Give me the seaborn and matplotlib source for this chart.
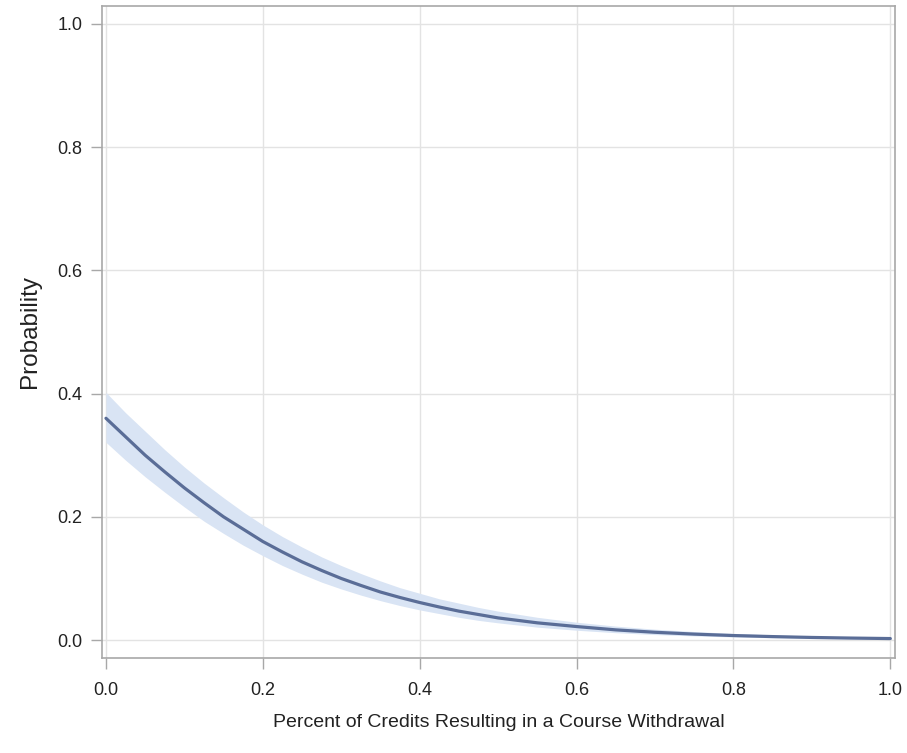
import matplotlib
matplotlib.use("Agg")
import matplotlib.pyplot as plt
import seaborn as sns
import pandas as pd

# Data
pct_withdrawal = [0.000, 0.025, 0.050, 0.075, 0.100, 0.125, 0.150, 0.175, 0.200, 0.225,
                  0.250, 0.275, 0.300, 0.325, 0.350, 0.375, 0.400, 0.425, 0.450, 0.475,
                  0.50, 0.55, 0.60, 0.65, 0.70, 0.75, 0.80, 0.85, 0.90, 0.95, 1.00]
probability = [0.360, 0.330, 0.300, 0.273, 0.247, 0.223, 0.200, 0.180, 0.160, 0.143,
               0.127, 0.113, 0.100, 0.0887, 0.078, 0.0691, 0.061, 0.0537, 0.047, 0.0415,
               0.036, 0.028, 0.022, 0.0166, 0.0127, 0.0097, 0.0074, 0.0057, 0.0043, 0.0033, 0.0025]
lower_cl = [0.321, 0.292, 0.265, 0.240, 0.216, 0.193, 0.173, 0.154, 0.137, 0.121,
            0.107, 0.094, 0.083, 0.073, 0.064, 0.056, 0.049, 0.043, 0.037, 0.032,
            0.028, 0.021, 0.016, 0.0120, 0.0090, 0.0068, 0.0051, 0.0038, 0.0029, 0.0021, 0.0016]
upper_cl = [0.402, 0.369, 0.339, 0.309, 0.281, 0.255, 0.231, 0.208, 0.187, 0.168,
            0.151, 0.135, 0.121, 0.108, 0.096, 0.085, 0.076, 0.067, 0.060, 0.053,
            0.047, 0.037, 0.029, 0.0227, 0.0177, 0.0139, 0.0108, 0.0085, 0.0066, 0.0052, 0.0040]
x_ticks = [0.0, 0.2, 0.4, 0.6, 0.8, 1.0]
y_ticks = [0.0, 0.2, 0.4, 0.6, 0.8, 1.0]
x_label = "Percent of Credits Resulting in a Course Withdrawal"
y_label = "Probability"

df = pd.DataFrame({"x": pct_withdrawal, "p": probability, "lo": lower_cl, "hi": upper_cl})

sns.set_style("whitegrid")
plt.rcParams["font.family"] = ["Liberation Sans", "DejaVu Sans"]

fig = plt.figure(figsize=(9.07, 7.53), dpi=100)
ax = fig.add_axes([0.1125, 0.1262, 0.9868 - 0.1125, 0.992 - 0.1262])

ax.fill_between(df["x"], df["lo"], df["hi"], color="#d9e4f4", linewidth=0, zorder=2)
sns.lineplot(data=df, x="x", y="p", ax=ax, color="#5a6d97", linewidth=2.3, zorder=3)

ax.set_xlim(-0.005, 1.006)
ax.set_ylim(-0.029, 1.029)
ax.set_xticks(x_ticks)
ax.set_yticks(y_ticks)
ax.set_xticklabels([f"{v:.1f}" for v in x_ticks])
ax.set_yticklabels([f"{v:.1f}" for v in y_ticks])

ax.grid(True, color="#e3e3e3", linewidth=1.0)
ax.set_axisbelow(True)
for s in ax.spines.values():
    s.set_color("#a8a8a8")
    s.set_linewidth(1.2)

ax.tick_params(axis="both", which="both", bottom=True, left=True, length=8, width=1.0,
               color="#a8a8a8", labelsize=13, labelcolor="#222222", pad=6)
ax.tick_params(axis="x", pad=9)

ax.set_xlabel(x_label, fontsize=14, color="#222222", labelpad=11)
ax.set_ylabel(y_label, fontsize=17.5, color="#222222", labelpad=12)

fig.savefig("out.png", dpi=100)
